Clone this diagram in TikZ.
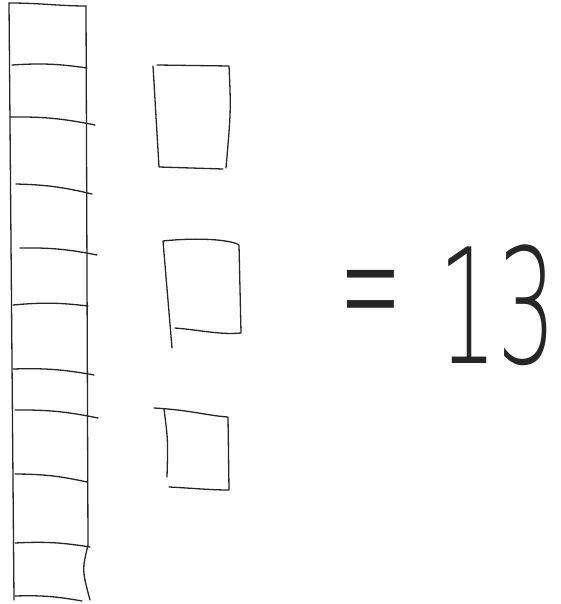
\documentclass[tikz,border=0pt]{standalone}
\usepackage{fontspec}
\newfontfamily\handfont{DejaVu Sans ExtraLight}
\begin{document}
\begin{tikzpicture}[x=1pt, y=-1pt,
    pen/.style={draw=black!85, line width=1.3pt, line cap=round, line join=round},
    numtext/.style={font=\handfont\fontsize{160}{160}\selectfont, text=black!85, inner sep=0pt}
]
    \useasboundingbox (0,0) rectangle (561,604);
    % the ten rod
    \draw[pen] (9,3) -- (14,600);
    \draw[pen] (86,6) -- (88,545) .. controls (82,570) .. (90,600);
    \draw[pen] (9,3) .. controls (40,3) and (60,6) .. (86,6);
    \foreach \xa/\ya/\xb/\yb in {12/65/87/68, 10/117/95/125, 16/184/92/194,
        20/248/97/255, 13/305/88/306, 13/369/94/375, 15/410/98/418,
        15/474/87/482, 15/543/90/547, 15/596/82/601}
        \draw[pen] (\xa,\ya) to[bend left=6] (\xb,\yb);
    % the three ones
    \draw[pen] (153,66) -- (159,167) -- (223,169);
    \draw[pen] (157,65) -- (229,66) .. controls (231,110) .. (226,168);
    \draw[pen] (172,348) -- (163,241) .. controls (200,237) and (232,240) .. (239,245)
        -- (241,333) .. controls (220,335) and (200,330) .. (175,328);
    \draw[pen] (154,408) .. controls (190,410) and (210,416) .. (228,417) -- (229,490)
        .. controls (210,490) and (190,488) .. (169,487);
    \draw[pen] (164,409) .. controls (168,440) .. (167,477);
    % the sum
    \node[numtext, font=\handfont\fontsize{60}{60}\selectfont, xscale=1.25, yscale=3.2] (eqsign) at (371,310) {=};
    \node[numtext, xscale=0.58, anchor=west] (total) at (438,305) {13};
\end{tikzpicture}
\end{document}
